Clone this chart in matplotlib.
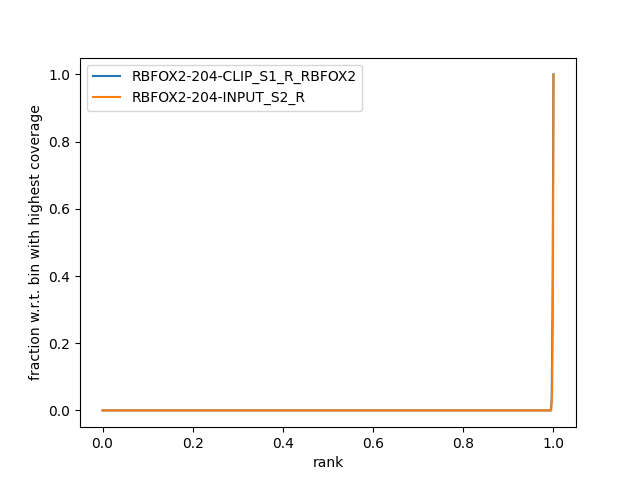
import matplotlib
matplotlib.use("Agg")
import matplotlib.pyplot as plt

labels = ["RBFOX2-204-CLIP_S1_R_RBFOX2", "RBFOX2-204-INPUT_S2_R"]
rank_clip = [0.0, 0.99, 0.994, 0.996, 0.998, 1.0]
frac_clip = [0.0, 0.0, 0.0, 0.03, 0.3, 1.0]
rank_input = [0.0, 0.99, 0.995, 0.997, 0.999, 1.0]
frac_input = [0.0, 0.0, 0.0, 0.05, 0.4, 1.0]

fig = plt.figure(figsize=(6.4, 4.8), dpi=100)
plt.plot(rank_clip, frac_clip, label=labels[0])
plt.plot(rank_input, frac_input, label=labels[1])
plt.xlabel("rank")
plt.ylabel("fraction w.r.t. bin with highest coverage")
plt.legend(loc="upper left")
plt.savefig("out.png")
